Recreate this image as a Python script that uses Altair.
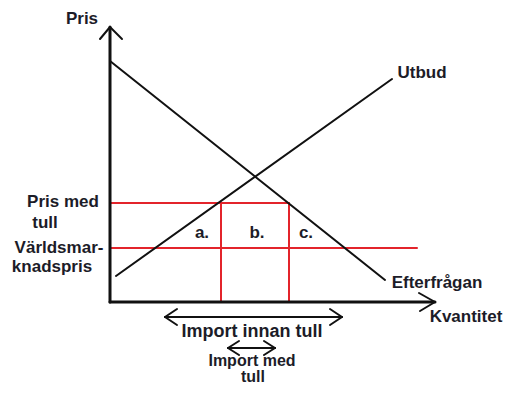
import altair as alt
import pandas as pd

# Curves (quantity, price)
demand_q = [0, 275]
demand_p = [241, 22]
supply_q = [6, 282]
supply_p = [26, 223]

# Prices and quantities
price_with_tariff = 99
world_price = 54
q_supply_at_tariff = 111
q_demand_at_tariff = 179
world_line_end = 307

# Axis extents
axis_q_end = 325
axis_p_end = 275

# Import ranges shown under the axis
import_before = [55, 232]
import_before_level = -15
import_after = [118, 165]
import_after_level = -46

# Text labels
label_text = ["Pris", "Utbud", "Efterfrågan", "Kvantitet", "a.", "b.", "c.",
              "Pris med", "tull", "Världsmar-", "knadspris"]
label_q = [-28, 312, 327, 356, 92, 147, 196, -47, -65, -51, -58]
label_p = [283, 229, 19, -15, 69, 69, 69, 100, 79, 54, 35]

import_text = ["Import innan tull"]
import_q = [142]
import_p = [-30]

import_after_text = ["Import med", "tull"]
import_after_q = [142, 143]
import_after_p = [-59, -75]

# ---------------------------------------------------------------
def seg(x, y, x2, y2, kind):
    return {"x": x, "y": y, "x2": x2, "y2": y2, "kind": kind}

def chevron(tx, ty, ax1, ay1, ax2, ay2, kind):
    return [seg(ax1, ay1, tx, ty, kind), seg(ax2, ay2, tx, ty, kind)]

segs = []
# axes
segs.append(seg(0, 0, 0, axis_p_end, "axis"))
segs.append(seg(0, 0, axis_q_end, 0, "axis"))
segs += chevron(0, axis_p_end, -10, axis_p_end - 12, 12, axis_p_end - 12, "line")
segs += chevron(axis_q_end, 0, axis_q_end - 16, 9, axis_q_end - 15, -9, "line")
# curves
segs.append(seg(demand_q[0], demand_p[0], demand_q[1], demand_p[1], "line"))
segs.append(seg(supply_q[0], supply_p[0], supply_q[1], supply_p[1], "line"))
# import arrows
for (a, b), lvl, dx, dy in [(import_before, import_before_level, 12, 8),
                            (import_after, import_after_level, 11, 7)]:
    segs.append(seg(a, lvl, b, lvl, "line"))
    segs += chevron(a, lvl, a + dx, lvl + dy, a + dx, lvl - dy, "line")
    segs += chevron(b, lvl, b - dx, lvl + dy, b - dx, lvl - dy, "line")
# red lines
segs.append(seg(0, price_with_tariff, q_demand_at_tariff, price_with_tariff, "red"))
segs.append(seg(0, world_price, world_line_end, world_price, "red"))
segs.append(seg(q_supply_at_tariff, 0, q_supply_at_tariff, price_with_tariff, "red"))
segs.append(seg(q_demand_at_tariff, 0, q_demand_at_tariff, price_with_tariff, "red"))

seg_df = pd.DataFrame(segs)
lab_df = pd.DataFrame({"q": label_q, "p": label_p, "text": label_text})
imp_df = pd.DataFrame({"q": import_q, "p": import_p, "text": import_text})
imp2_df = pd.DataFrame({"q": import_after_q, "p": import_after_p, "text": import_after_text})

xs = alt.Scale(domain=[-102, 394], nice=False, zero=False)
ys = alt.Scale(domain=[-84, 294], nice=False, zero=False)

def rules(kind, color, width):
    return alt.Chart(seg_df).transform_filter(alt.datum.kind == kind).mark_rule(
        color=color, strokeWidth=width, strokeCap="round"
    ).encode(
        x=alt.X("x:Q", scale=xs, axis=None),
        y=alt.Y("y:Q", scale=ys, axis=None),
        x2="x2:Q",
        y2="y2:Q",
    )

red_layer = rules("red", "#e3242b", 2)
line_layer = rules("line", "#111111", 2)
axis_layer = rules("axis", "#111111", 3)

def texts(df, size):
    return alt.Chart(df).mark_text(
        font="Liberation Sans", fontWeight="bold", fontSize=size,
        color="#1c1c28", align="center", baseline="middle"
    ).encode(
        x=alt.X("q:Q", scale=xs, axis=None),
        y=alt.Y("p:Q", scale=ys, axis=None),
        text="text:N",
    )

chart = alt.layer(
    red_layer, line_layer, axis_layer,
    texts(lab_df, 17), texts(imp_df, 18), texts(imp2_df, 16)
).properties(
    width=496, height=378, padding=0, autosize=alt.AutoSizeParams(type="none"),
    background="white",
).configure_view(stroke=None)

chart.save("out.html", embed_options={"renderer": "svg", "actions": False})
